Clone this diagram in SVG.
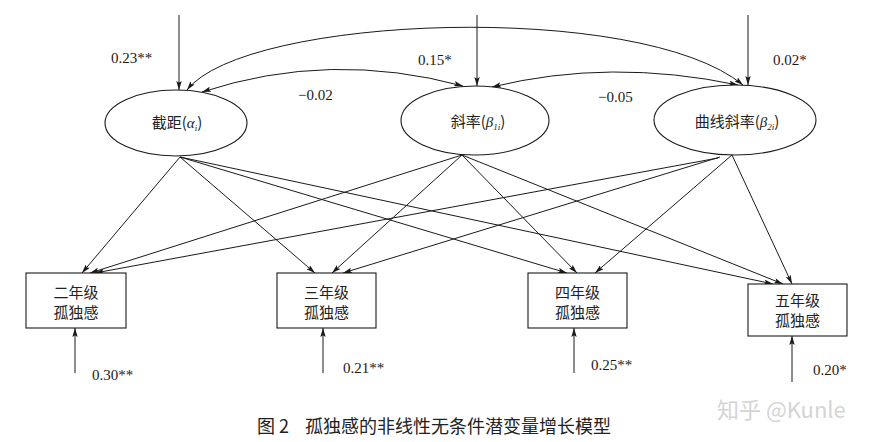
<svg xmlns="http://www.w3.org/2000/svg" width="882" height="442" viewBox="0 0 882 442">
<style>
.ln{fill:none;stroke:#1a1a1a;stroke-width:1}
.arr{marker-end:url(#ah)}
.dbl{marker-start:url(#ah);marker-end:url(#ah)}
.shape{fill:#fff;stroke:#1a1a1a;stroke-width:1.1}
.cj{font-family:"Noto Sans CJK SC","Noto Sans",sans-serif;font-size:15px;fill:#222;text-anchor:middle}
.num{font-family:"Liberation Serif",serif;font-size:15px;fill:#1a1a1a}
.it{font-family:"Liberation Serif",serif;font-style:italic}
.cap{font-family:"Noto Sans CJK SC","Noto Sans",sans-serif;font-size:18px;fill:#222}
.wm{font-family:"Noto Sans CJK SC","Noto Sans",sans-serif;font-size:22px;fill:#d4d4d4}
</style>
<defs>
<marker id="ah" viewBox="0 0 10 6" refX="10" refY="3" markerWidth="9" markerHeight="5.4" orient="auto-start-reverse" markerUnits="userSpaceOnUse">
<path d="M0,0 L10,3 L0,6 L2,3 z" fill="#1a1a1a"/>
</marker>
</defs>
<rect width="882" height="442" fill="#fff"/>

<g id="connectors">
<!-- top disturbances -->
<path class="ln arr" d="M179,15 L179,90"/>
<path class="ln arr" d="M477,15 L477,86"/>
<path class="ln arr" d="M748,15 L748,85"/>
<!-- covariances -->
<path class="ln dbl" d="M187,90 C245,15 640,0 743,85"/>
<path class="ln dbl" d="M202,92 Q330,50 463,86"/>
<path class="ln dbl" d="M492,87 Q610,58 738,85"/>
<!-- loadings from intercept -->
<path class="ln arr" d="M180,157 L82,273"/>
<path class="ln arr" d="M180,157 L315,273"/>
<path class="ln arr" d="M180,157 L567,273"/>
<path class="ln arr" d="M180,157 L773,284"/>
<!-- loadings from slope -->
<path class="ln arr" d="M462,155 L90,273"/>
<path class="ln arr" d="M462,155 L332,273"/>
<path class="ln arr" d="M462,155 L577,273"/>
<path class="ln arr" d="M462,155 L783,284"/>
<!-- loadings from curve slope -->
<path class="ln arr" d="M718,158 L95,273"/>
<path class="ln arr" d="M720,157 L343,273"/>
<path class="ln arr" d="M732,155 L595,273"/>
<path class="ln arr" d="M732,155 L792,284"/>
<!-- residual arrows -->
<path class="ln arr" d="M75,373 L75,328"/>
<path class="ln arr" d="M323,373 L323,328"/>
<path class="ln arr" d="M574,373 L574,328"/>
<path class="ln arr" d="M792,382 L792,336"/>
</g>

<g id="intercept">
<ellipse class="shape" cx="176" cy="123" rx="71" ry="33"/>
<text class="cj" x="177" y="128">截距(<tspan class="it">α</tspan><tspan class="it" font-size="9" dy="3">i</tspan><tspan dy="-3">)</tspan></text>
</g>
<g id="slope">
<ellipse class="shape" cx="475" cy="120.5" rx="74" ry="34.5"/>
<text class="cj" x="478" y="127">斜率(<tspan class="it">β</tspan><tspan class="it" font-size="9" dy="3">1i</tspan><tspan dy="-3">)</tspan></text>
</g>
<g id="curve-slope">
<ellipse class="shape" cx="735" cy="120" rx="81" ry="35"/>
<text class="cj" x="737" y="127">曲线斜率(<tspan class="it">β</tspan><tspan class="it" font-size="9" dy="3">2i</tspan><tspan dy="-3">)</tspan></text>
</g>

<g id="grade2">
<rect class="shape" x="26" y="273" width="100" height="55"/>
<text class="cj" x="76" y="298">二年级</text>
<text class="cj" x="76" y="318">孤独感</text>
</g>
<g id="grade3">
<rect class="shape" x="277" y="273" width="99" height="55"/>
<text class="cj" x="326.5" y="298">三年级</text>
<text class="cj" x="326.5" y="318">孤独感</text>
</g>
<g id="grade4">
<rect class="shape" x="528" y="273" width="99" height="55"/>
<text class="cj" x="577.5" y="298">四年级</text>
<text class="cj" x="577.5" y="318">孤独感</text>
</g>
<g id="grade5">
<rect class="shape" x="748" y="284" width="99" height="52"/>
<text class="cj" x="797.5" y="306">五年级</text>
<text class="cj" x="797.5" y="326">孤独感</text>
</g>

<g id="labels">
<text class="num" x="111" y="63">0.23**</text>
<text class="num" x="298" y="100">−0.02</text>
<text class="num" x="418" y="65">0.15*</text>
<text class="num" x="598" y="102">−0.05</text>
<text class="num" x="773" y="65">0.02*</text>
<text class="num" x="92" y="380">0.30**</text>
<text class="num" x="343" y="373">0.21**</text>
<text class="num" x="591" y="370">0.25**</text>
<text class="num" x="813" y="375">0.20*</text>
</g>

<text class="cap" x="257" y="433">图 2</text>
<text class="cap" x="305" y="433">孤独感的非线性无条件潜变量增长模型</text>
<text class="wm" x="717" y="418">知乎 @Kunle</text>
</svg>
